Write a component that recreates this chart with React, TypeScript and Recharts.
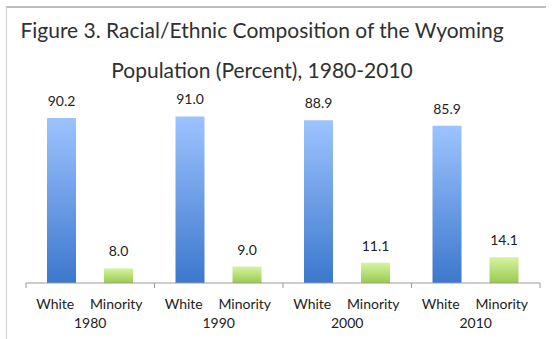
import { BarChart, Bar, XAxis, YAxis, LabelList } from "recharts";

const years = ["1980", "1990", "2000", "2010"];
const whiteShare = [90.2, 91.0, 88.9, 85.9];
const minorityShare = [8.0, 9.0, 11.1, 14.1];
const subLabels = ["White", "Minority"];
const yTicks = [0, 100];

const titleLines = [
  "Figure 3. Racial/Ethnic Composition of the Wyoming",
  "Population (Percent), 1980-2010",
];

const CHART_W = 556;
const CHART_H = 339;
const MARGIN = { top: 100, right: 16, left: 26, bottom: 6 };
const X_AXIS_H = 50;
const AXIS_Y = CHART_H - MARGIN.bottom - X_AXIS_H;
const HALF_BAND = (CHART_W - MARGIN.left - MARGIN.right) / years.length / 2;
const FONT = "Lato, 'Open Sans', sans-serif";

const data = years.map((year, i) => ({
  year,
  white: whiteShare[i],
  minority: minorityShare[i],
}));

function GroupTick(props: any) {
  const { x, payload, index } = props;
  const last = index === years.length - 1;
  return (
    <g>
      <line x1={x - HALF_BAND} x2={x - HALF_BAND} y1={AXIS_Y} y2={AXIS_Y + 5} stroke="#9a9a9a" />
      {last && (
        <line x1={x + HALF_BAND} x2={x + HALF_BAND} y1={AXIS_Y} y2={AXIS_Y + 5} stroke="#9a9a9a" />
      )}
      <text x={x - 35} y={AXIS_Y + 26} textAnchor="middle" fontSize={14} fill="#222" fontFamily={FONT}>
        {subLabels[0]}
      </text>
      <text x={x + 26} y={AXIS_Y + 26} textAnchor="middle" fontSize={14} fill="#222" fontFamily={FONT}>
        {subLabels[1]}
      </text>
      <text x={x} y={AXIS_Y + 44.5} textAnchor="middle" fontSize={14} fill="#222" fontFamily={FONT}>
        {payload.value}
      </text>
    </g>
  );
}

export default function App() {
  return (
    <div
      style={{
        position: "absolute",
        left: 0,
        top: 0,
        width: CHART_W,
        height: CHART_H,
        background: "#fff",
        overflow: "hidden",
      }}
    >
      <style>{`html, body { margin: 0; overflow: hidden; }`}</style>
      {/* frame: only the top and left edges are visible in the crop */}
      <div
        style={{
          position: "absolute",
          left: 6,
          top: 6,
          width: CHART_W - 7,
          height: CHART_H - 6,
          borderTop: "2px solid #bdbdbd",
          borderLeft: "1px solid #d0d0d0",
        }}
      />
      {titleLines.map((line, i) => (
        <div
          key={line}
          style={{
            position: "absolute",
            left: 0,
            width: 524,
            top: 17 + i * 40,
            textAlign: "center",
            fontFamily: FONT,
            fontSize: 21,
            lineHeight: "26px",
            color: "#303030",
          }}
        >
          {line}
        </div>
      ))}
      <BarChart
        width={CHART_W}
        height={CHART_H}
        data={data}
        margin={MARGIN}
        barGap={28}
        barCategoryGap={21}
        style={{ position: "absolute", left: 0, top: 0 }}
      >
        <defs>
          <linearGradient id="gWhite" x1="0" y1="0" x2="0" y2="1">
            <stop offset="0%" stopColor="#9dc3ff" />
            <stop offset="100%" stopColor="#3c78cc" />
          </linearGradient>
          <linearGradient id="gMinority" x1="0" y1="0" x2="0" y2="1">
            <stop offset="0%" stopColor="#d6f3a3" />
            <stop offset="100%" stopColor="#99cb4c" />
          </linearGradient>
        </defs>
        <XAxis
          dataKey="year"
          height={X_AXIS_H}
          stroke="#9a9a9a"
          tickLine={false}
          interval={0}
          tick={(p: any) => <GroupTick {...p} />}
        />
        <YAxis hide domain={[0, 100]} ticks={yTicks} />
        <Bar dataKey="white" fill="url(#gWhite)" barSize={29} isAnimationActive={false}>
          <LabelList
            dataKey="white"
            position="top"
            offset={12}
            formatter={(v: any) => Number(v).toFixed(1)}
            style={{ fontFamily: FONT, fontSize: 14, fill: "#222" }}
          />
        </Bar>
        <Bar dataKey="minority" fill="url(#gMinority)" barSize={29} isAnimationActive={false}>
          <LabelList
            dataKey="minority"
            position="top"
            offset={12}
            formatter={(v: any) => Number(v).toFixed(1)}
            style={{ fontFamily: FONT, fontSize: 14, fill: "#222" }}
          />
        </Bar>
      </BarChart>
      {/* blank strip on the right edge, past the plot */}
      <div
        style={{
          position: "absolute",
          left: CHART_W - 10,
          top: 0,
          width: 10,
          height: CHART_H,
          background: "#fff",
          zIndex: 5,
        }}
      />
    </div>
  );
}
